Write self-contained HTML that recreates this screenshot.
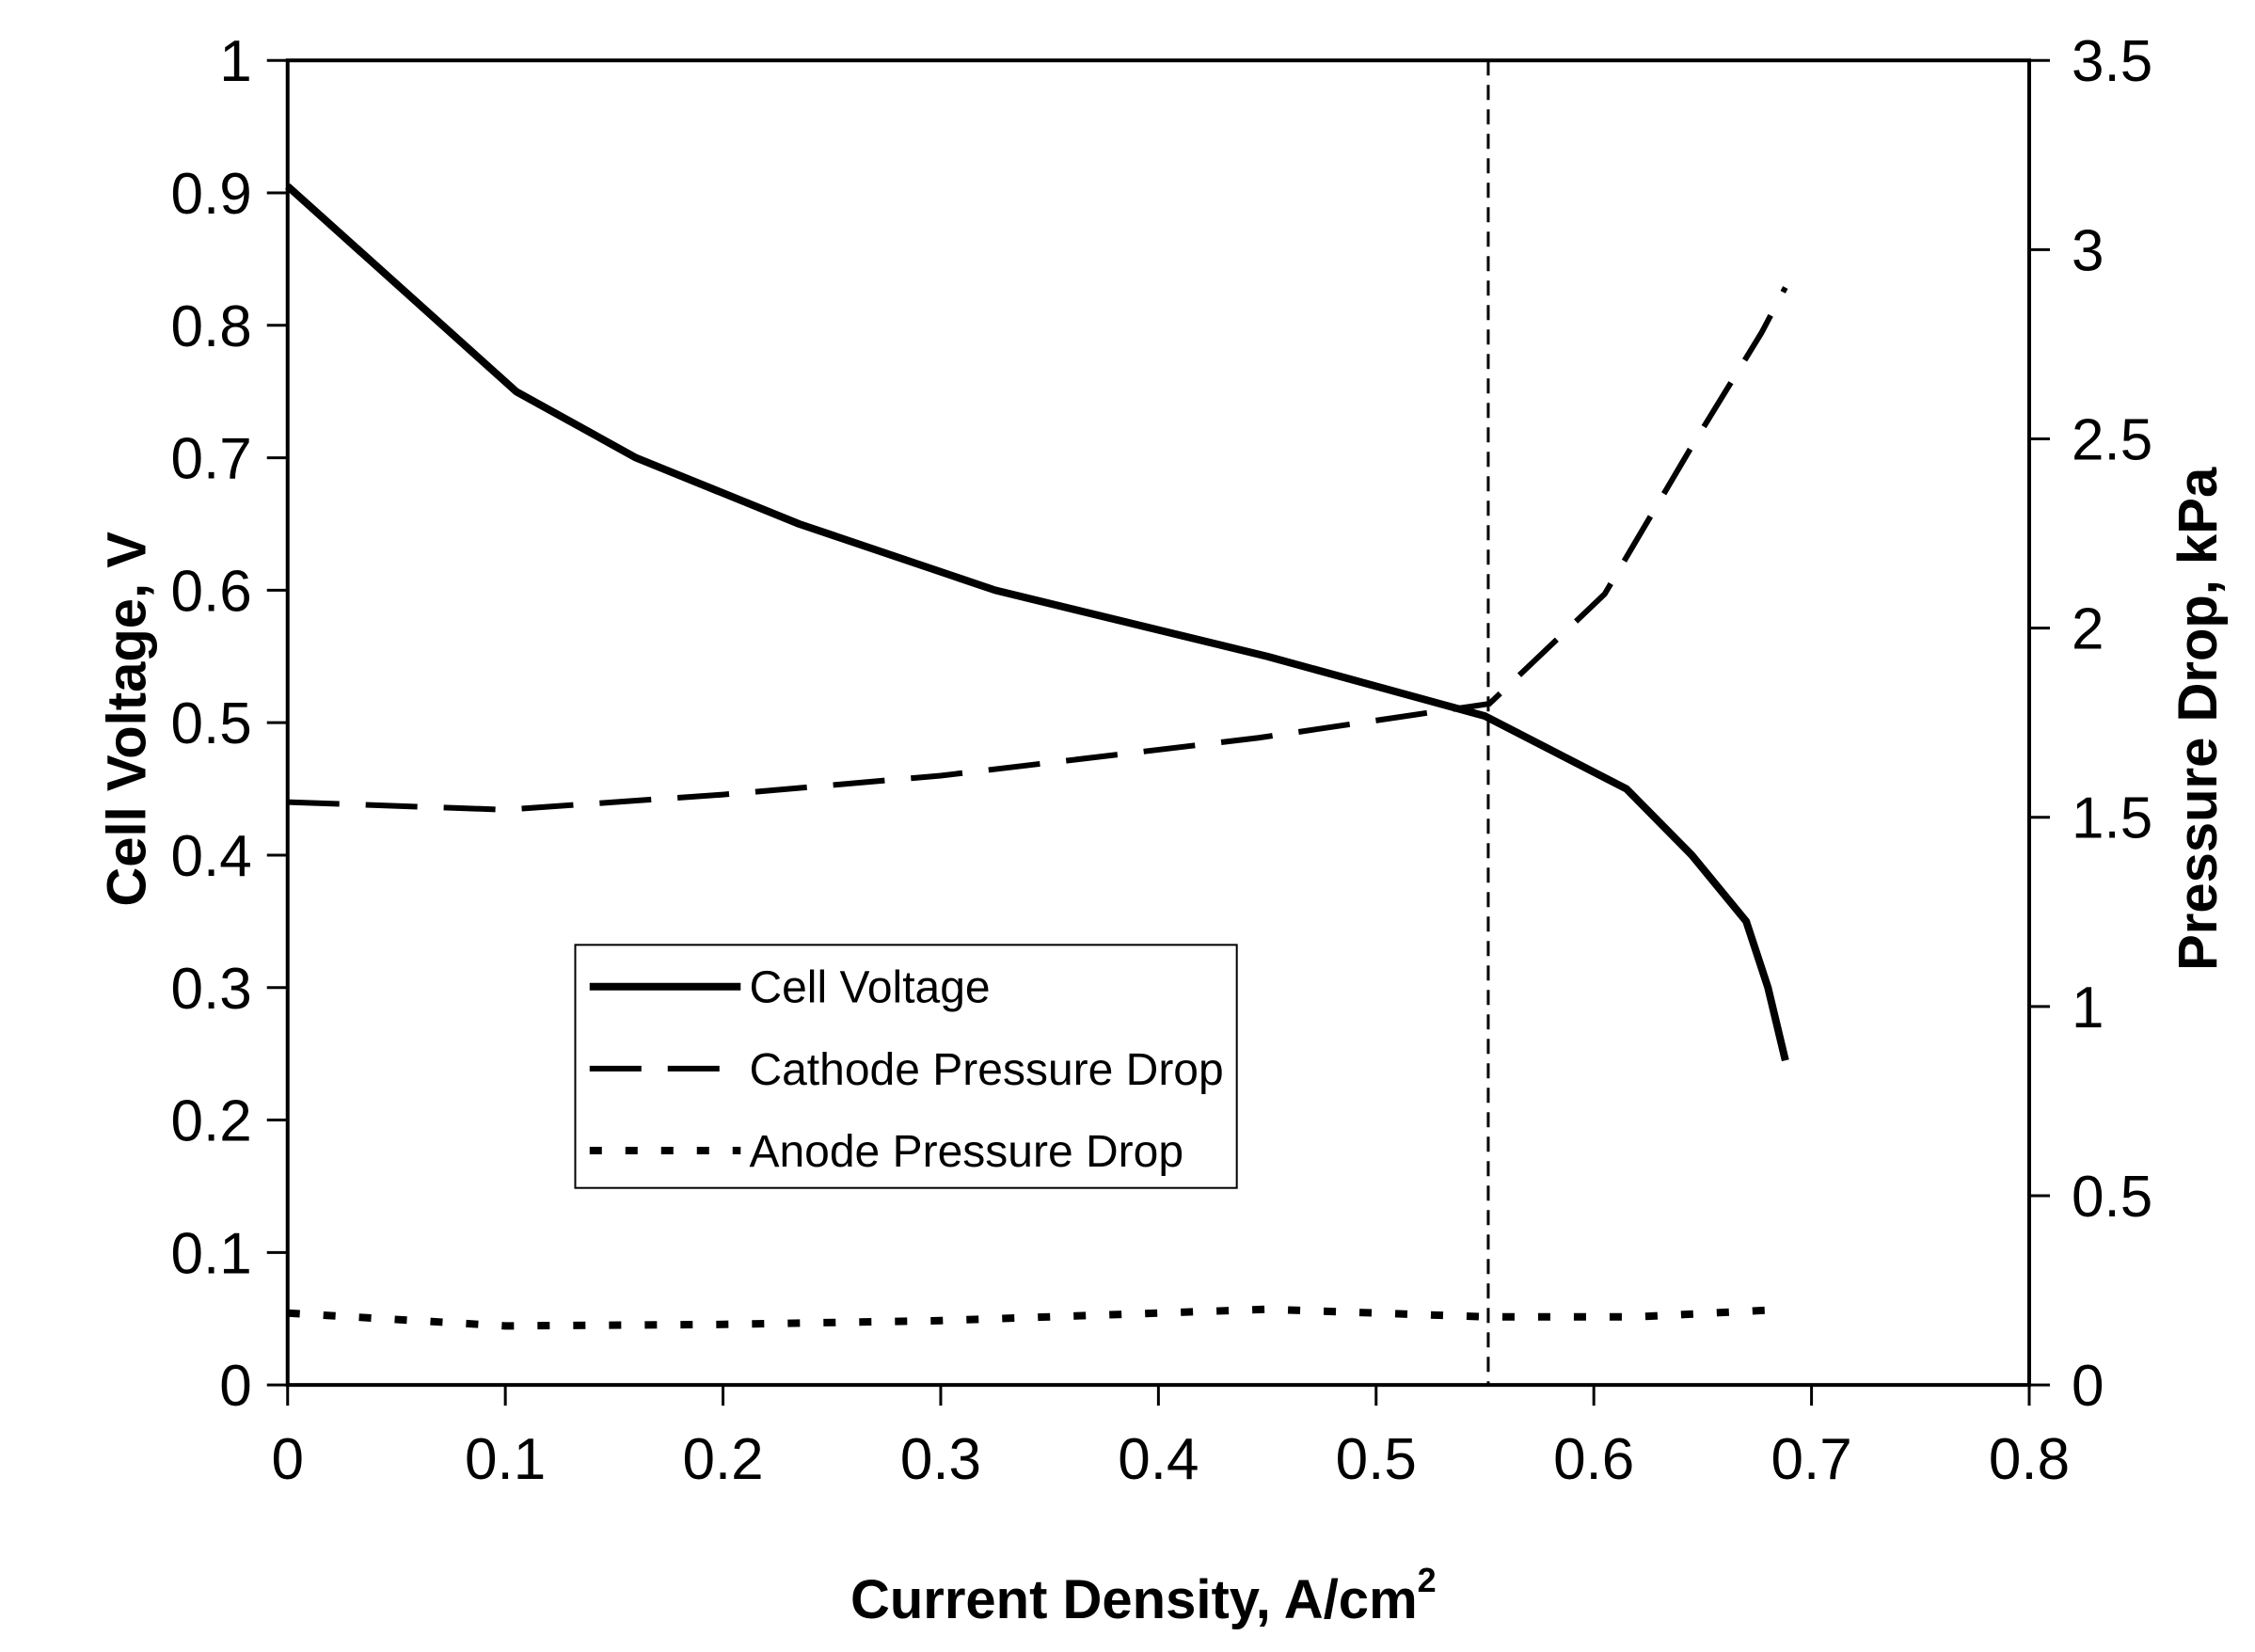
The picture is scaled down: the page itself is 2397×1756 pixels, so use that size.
<!DOCTYPE html>
<html><head><meta charset="utf-8"><style>
html,body{margin:0;padding:0;background:#fff}
svg{display:block}
text{font-family:"Liberation Sans",Arial,sans-serif;fill:#000}
</style></head><body>
<svg id="chart" width="2397" height="1756" viewBox="0 0 2397 1756" xmlns="http://www.w3.org/2000/svg"></svg>
<script>
const xTicks=[0,0.1,0.2,0.3,0.4,0.5,0.6,0.7,0.8];
const yLeftTicks=[0,0.1,0.2,0.3,0.4,0.5,0.6,0.7,0.8,0.9,1];
const yRightTicks=[0,0.5,1,1.5,2,2.5,3,3.5];
const voltX=[0,0.105,0.16,0.235,0.325,0.45,0.55,0.615,0.645,0.67,0.68,0.688];
const voltY=[0.905,0.75,0.70,0.65,0.60,0.55,0.505,0.45,0.40,0.35,0.30,0.245];
const cathX=[0,0.1,0.2,0.3,0.446,0.552,0.605,0.645,0.677,0.688];
const cathY=[1.54,1.52,1.56,1.61,1.71,1.8,2.09,2.48,2.78,2.9];
const anodeX=[0,0.1,0.2,0.3,0.45,0.55,0.62,0.688];
const anodeY=[0.19,0.156,0.16,0.17,0.2,0.18,0.18,0.2];
const markerX=0.5515;

const S=1.5287;
const L=200*S,R=1411*S,T=42*S,B=963*S;
const X=v=>L+(v/0.8)*(R-L);
const YL=v=>B-(v/1)*(B-T);
const YR=v=>B-(v/3.5)*(B-T);
const svg=document.getElementById('chart');
const NS='http://www.w3.org/2000/svg';
function mk(tag,attrs,parent){const e=document.createElementNS(NS,tag);for(const k in attrs)e.setAttribute(k,attrs[k]);(parent||svg).appendChild(e);return e;}

const frame=mk('rect',{x:L,y:T,width:R-L,height:B-T,fill:'none',stroke:'#000','stroke-width':4});



xTicks.forEach(v=>{
  const t=mk('line',{x1:X(v),x2:X(v),y1:B,y2:B+22,stroke:'#000','stroke-width':3});
  
  
  const lb=mk('text',{x:X(v),y:B+100,'font-size':62,'text-anchor':'middle'});
  lb.textContent=String(v);
  
  
});
yLeftTicks.forEach(v=>{
  const t=mk('line',{x1:L-22,x2:L,y1:YL(v),y2:YL(v),stroke:'#000','stroke-width':3});
  
  
  const lb=mk('text',{x:L-38,y:YL(v)+22,'font-size':62,'text-anchor':'end'});
  lb.textContent=String(v);
  
  
});
yRightTicks.forEach(v=>{
  const t=mk('line',{x1:R,x2:R+22,y1:YR(v),y2:YR(v),stroke:'#000','stroke-width':3});
  
  
  const lb=mk('text',{x:R+45,y:YR(v)+22,'font-size':62,'text-anchor':'start'});
  lb.textContent=String(v);
  
  
});

function pts(xs,ys,yf){return xs.map((x,i)=>X(x)+','+yf(ys[i])).join(' ');}
const vl=mk('polyline',{points:pts(voltX,voltY,YL),fill:'none',stroke:'#000','stroke-width':8,'stroke-linejoin':'round'});


const cl=mk('polyline',{points:pts(cathX,cathY,YR),fill:'none',stroke:'#000','stroke-width':6,'stroke-dasharray':'55,28'});


const al=mk('polyline',{points:pts(anodeX,anodeY,YR),fill:'none',stroke:'#000','stroke-width':8,'stroke-dasharray':'13,25'});


const ml=mk('line',{x1:X(markerX),x2:X(markerX),y1:T,y2:B,stroke:'#000','stroke-width':3,'stroke-dasharray':'16,10'});



const lg=mk('g',{});


mk('rect',{x:400*S,y:657*S,width:460*S,height:169*S,fill:'#fff',stroke:'#000','stroke-width':2},lg);
const entries=[['Cell Voltage','none',8],['Cathode Pressure Drop','55,28',6],['Anode Pressure Drop','13,25',8]];
entries.forEach((e,i)=>{
  const y=(686+i*57)*S;
  const g=mk('g',{},lg);
  
  
  const a={x1:410*S,x2:515*S,y1:y,y2:y,stroke:'#000','stroke-width':e[2]};
  if(e[1]!=='none')a['stroke-dasharray']=e[1];
  mk('line',a,g);
  const t=mk('text',{x:521*S,y:y+17,'font-size':48},g);
  t.textContent=e[0];
});

const xt=mk('text',{x:795*S,y:1112*S+20,'font-size':58,'font-weight':'bold','text-anchor':'middle'});
xt.innerHTML='Current Density, A/cm<tspan dy="-28" font-size="36">2</tspan>';


const yt=mk('text',{x:0,y:0,'font-size':58,'font-weight':'bold','text-anchor':'middle',transform:`translate(${88*S+20},${500*S}) rotate(-90)`});
yt.textContent='Cell Voltage, V';


const yr=mk('text',{x:0,y:0,'font-size':58,'font-weight':'bold','text-anchor':'middle',transform:`translate(${1528*S+20},${500*S}) rotate(-90)`});
yr.textContent='Pressure Drop, kPa';


</script>
</body></html>
